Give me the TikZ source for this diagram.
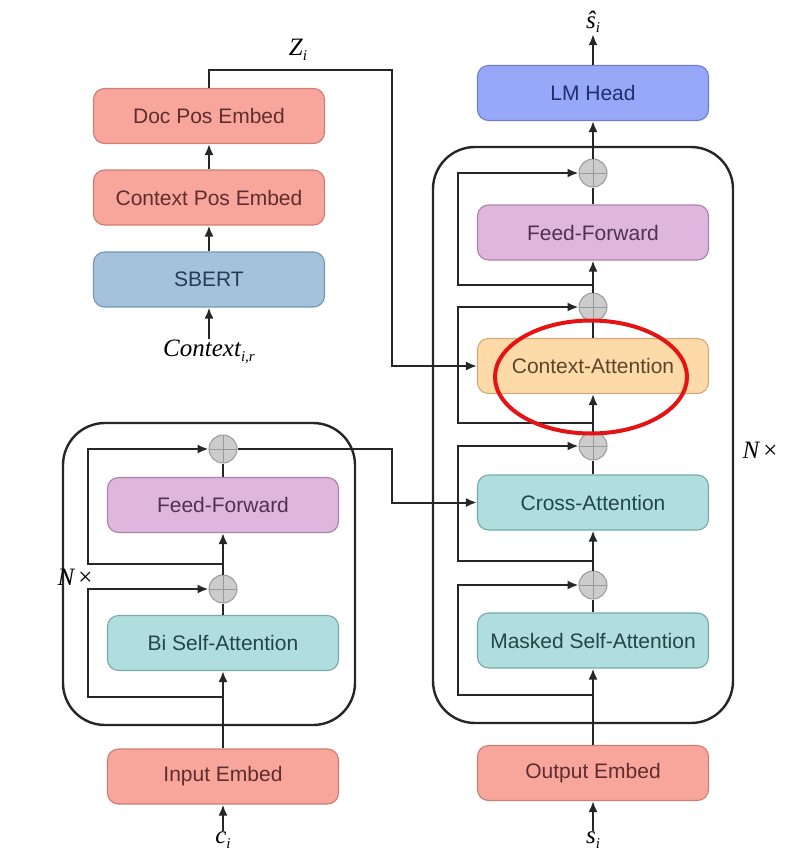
\documentclass[tikz,border=0pt]{standalone}
\usepackage{fontspec}
\setmainfont{Liberation Sans}
\newfontfamily\lblfont{Liberation Serif}
\newcommand{\mysub}[1]{\raisebox{-0.4ex}{\fontsize{15}{18}\selectfont #1}}
\usetikzlibrary{arrows.meta,shapes.geometric}
\definecolor{salmonF}{RGB}{248,166,156}
\definecolor{salmonD}{RGB}{205,125,115}
\definecolor{salmonT}{RGB}{95,45,45}
\definecolor{sbertF}{RGB}{164,194,220}
\definecolor{sbertD}{RGB}{120,150,180}
\definecolor{sbertT}{RGB}{40,60,80}
\definecolor{lmF}{RGB}{152,168,248}
\definecolor{lmD}{RGB}{110,125,210}
\definecolor{lmT}{RGB}{35,45,110}
\definecolor{ffF}{RGB}{222,182,222}
\definecolor{ffD}{RGB}{170,130,170}
\definecolor{ffT}{RGB}{80,50,80}
\definecolor{caF}{RGB}{254,218,168}
\definecolor{caD}{RGB}{210,170,120}
\definecolor{caT}{RGB}{90,70,40}
\definecolor{attF}{RGB}{176,222,222}
\definecolor{attD}{RGB}{120,170,170}
\definecolor{attT}{RGB}{35,70,70}
\definecolor{hlred}{RGB}{228,20,20}
\begin{document}
\begin{tikzpicture}[x=1pt,y=-1pt,
  box/.style={rounded corners=11pt, minimum width=231pt, minimum height=55pt, line width=1.1pt, inner sep=0pt, font=\fontsize{21}{25}\selectfont},
  salmonbox/.style={box, fill=salmonF, draw=salmonD, text=salmonT},
  sbertbox/.style={box, fill=sbertF, draw=sbertD, text=sbertT},
  lmbox/.style={box, fill=lmF, draw=lmD, text=lmT},
  ffbox/.style={box, fill=ffF, draw=ffD, text=ffT},
  cabox/.style={box, fill=caF, draw=caD, text=caT},
  attbox/.style={box, fill=attF, draw=attD, text=attT},
  frame/.style={draw=black!85, line width=2.4pt, rounded corners=42pt, inner sep=0pt},
  plus/.style={circle, minimum size=28pt, inner sep=0pt, fill=gray!40, draw=gray!80, line width=1pt,
    path picture={\draw[gray!80, line width=1pt] (path picture bounding box.north) -- (path picture bounding box.south) (path picture bounding box.west) -- (path picture bounding box.east);}},
  wire/.style={line width=2pt, draw=black!85},
  arr/.style={wire, -{Latex[length=11pt,width=9pt]}},
  lbl/.style={inner sep=1pt, font=\fontsize{25}{29}\selectfont\lblfont\itshape}
]
\useasboundingbox (0,0) rectangle (785,855);

% frames
\node[frame, minimum width=292pt, minimum height=302pt] (encframe) at (209,574) {};
\node[frame, minimum width=300pt, minimum height=576pt] (decframe) at (583,435) {};

% top-left context column
\node[salmonbox] (doc) at (209,116) {Doc Pos Embed};
\node[salmonbox] (ctxpos) at (209,197.5) {Context Pos Embed};
\node[sbertbox] (sbert) at (209,279.5) {SBERT};
\node[lbl] (ctx) at (209,352) {Context\mysub{i,r}};
\node[lbl] (zi) at (298,50) {Z\mysub{i}};

% encoder
\node[ffbox] (ffL) at (223,505) {Feed-Forward};
\node[attbox] (bisa) at (223,643) {Bi Self-Attention};
\node[salmonbox] (inemb) at (223,776.5) {Input Embed};
\node[plus] (q1) at (223,449) {};
\node[plus] (q2) at (223,589) {};
\node[lbl] (ci) at (223,840) {c\mysub{i}};
\node[lbl] (nl) at (75,577) {N\,\upshape×};

% decoder
\node[lmbox] (lm) at (593,93) {LM Head};
\node[ffbox] (ffR) at (593,232.5) {Feed-Forward};
\node[cabox] (ctxatt) at (593,366) {Context-Attention};
\node[attbox] (cross) at (593,502.5) {Cross-Attention};
\node[attbox] (masked) at (593,640.5) {Masked Self-Attention};
\node[salmonbox] (outemb) at (593,773) {Output Embed};
\node[plus] (p1) at (593,173) {};
\node[plus] (p2) at (593,307) {};
\node[plus] (p3) at (593,446) {};
\node[plus] (p4) at (593,585) {};
\node[lbl] (si) at (593,840) {s\mysub{i}};
\node[lbl] (shat) at (593,22) {ŝ\mysub{i}};
\node[lbl] (nr) at (760,450) {N\,\upshape×};

% context column connectors
\draw[arr] (ctx) -- (sbert);
\draw[arr] (sbert) -- (ctxpos);
\draw[arr] (ctxpos) -- (doc);
\coordinate (zr) at (392,70);
\draw[arr] (doc.north) |- (zr) |- (ctxatt.west);

% encoder connectors
\draw[arr] (ci) -- (inemb);
\draw[arr] (inemb) -- (bisa);
\draw[wire] (bisa) -- (q2);
\draw[arr] (q2) -- (ffL);
\draw[wire] (ffL) -- (q1);
\coordinate (ea) at (223,697); \coordinate (eb) at (88,697);
\draw[arr] (ea) -- (eb) |- (q2.west);
\coordinate (ec) at (223,564); \coordinate (ed) at (88,564);
\draw[arr] (ec) -- (ed) |- (q1.west);
\coordinate (e1) at (392,449);
\draw[arr] (q1.east) -- (e1) |- (cross.west);

% decoder connectors
\draw[arr] (si) -- (outemb);
\draw[arr] (outemb) -- (masked);
\draw[wire] (masked) -- (p4);
\draw[arr] (p4) -- (cross);
\draw[wire] (cross) -- (p3);
\draw[arr] (p3) -- (ctxatt);
\draw[wire] (ctxatt) -- (p2);
\draw[arr] (p2) -- (ffR);
\draw[wire] (ffR) -- (p1);
\draw[arr] (p1) -- (lm);
\draw[arr] (lm) -- (shat);
\coordinate (r4) at (593,695); \coordinate (l4) at (458,695);
\draw[arr] (r4) -- (l4) |- (p4.west);
\coordinate (r3) at (593,561); \coordinate (l3) at (458,561);
\draw[arr] (r3) -- (l3) |- (p3.west);
\coordinate (r2) at (593,423); \coordinate (l2) at (458,423);
\draw[arr] (r2) -- (l2) |- (p2.west);
\coordinate (r1) at (593,285); \coordinate (l1) at (458,285);
\draw[arr] (r1) -- (l1) |- (p1.west);

% highlight
\node[ellipse, draw=hlred, line width=4pt, minimum width=192pt, minimum height=113pt] (hl) at (591,377) {};
\end{tikzpicture}
\end{document}
